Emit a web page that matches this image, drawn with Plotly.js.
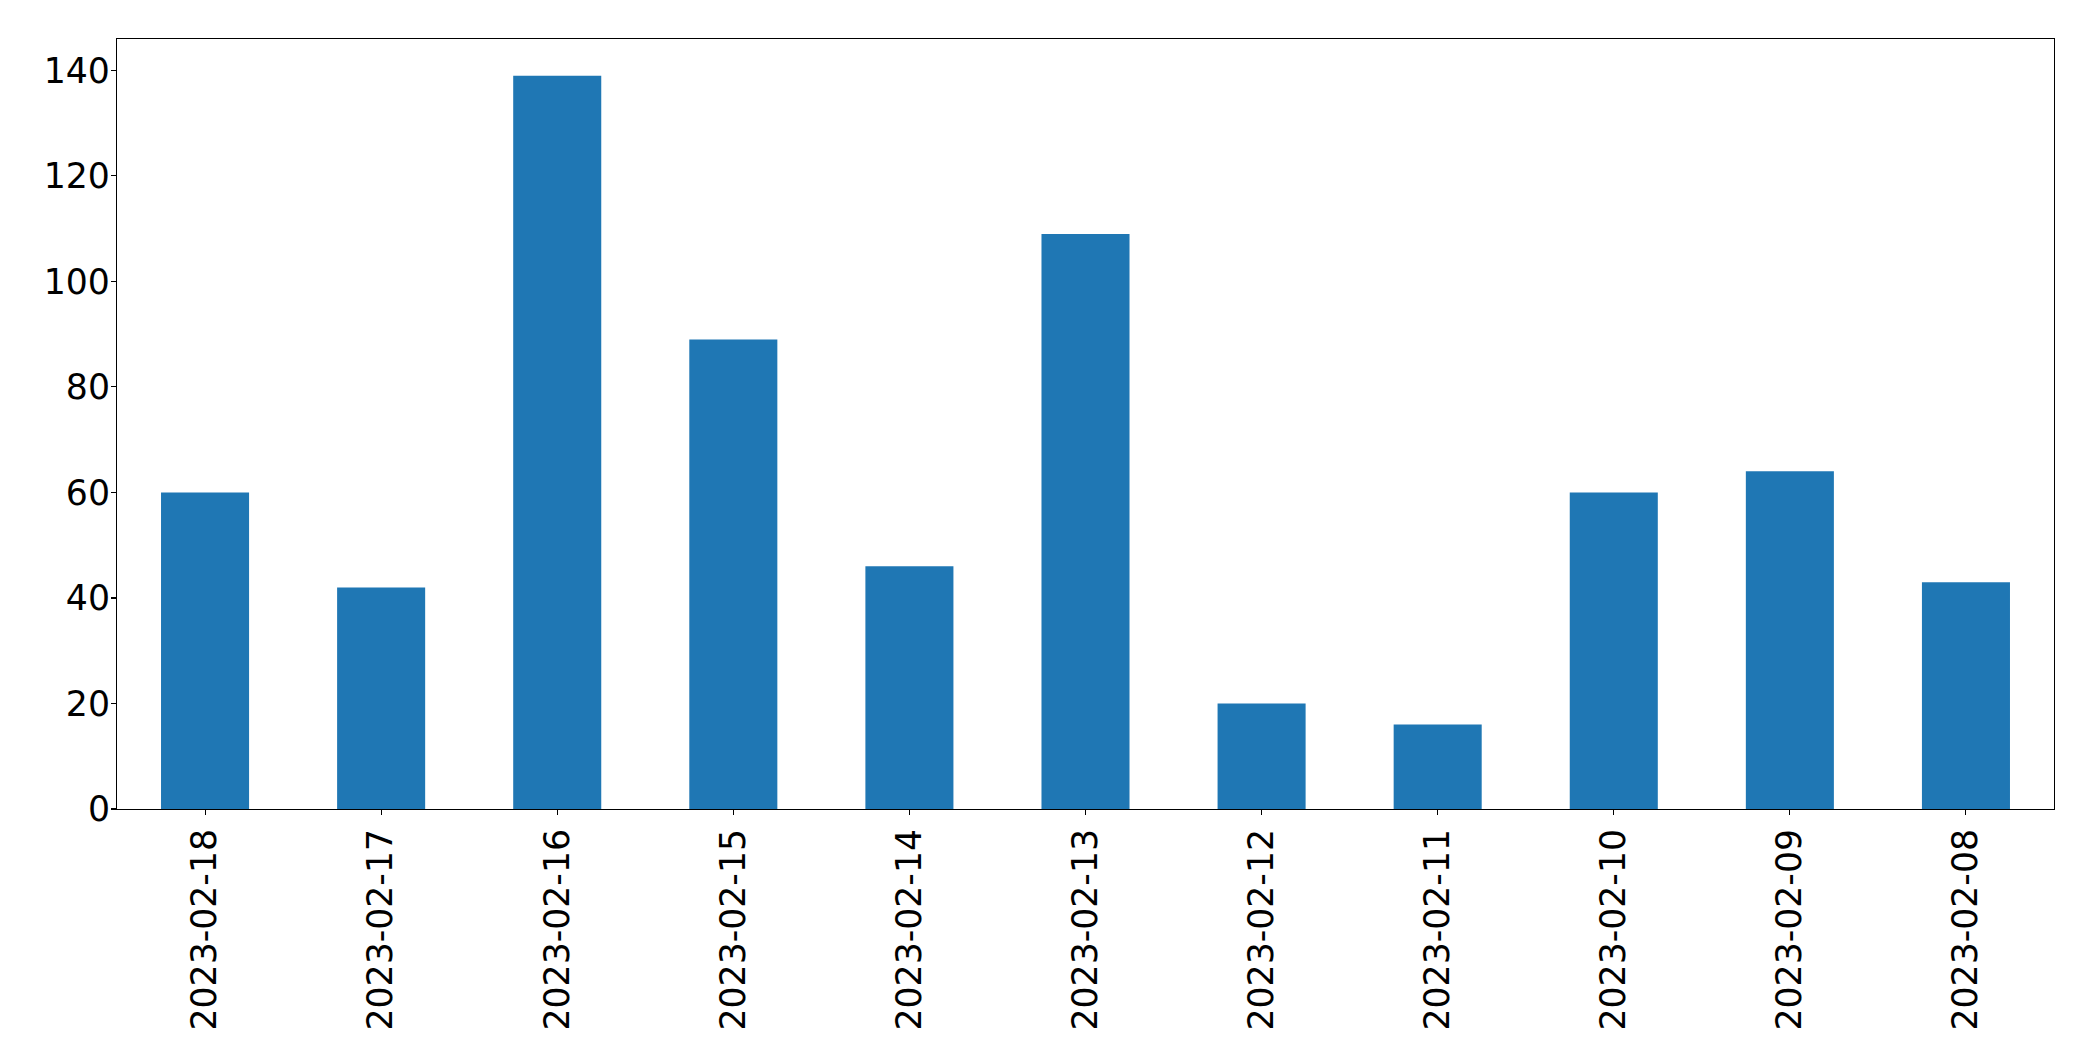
<!DOCTYPE html>
<html>
<head>
<meta charset="utf-8">
<script src="https://cdn.plot.ly/plotly-3.0.1.min.js"></script>
<style>html,body{margin:0;padding:0;background:#fff;}#chart{width:2093px;height:1061px;}</style>
</head>
<body>
<div id="chart"></div>
<script>
const categories = ["2023-02-18","2023-02-17","2023-02-16","2023-02-15","2023-02-14","2023-02-13","2023-02-12","2023-02-11","2023-02-10","2023-02-09","2023-02-08"];
const values = [60, 42, 139, 89, 46, 109, 20, 16, 60, 64, 43];
const yTicks = [0, 20, 40, 60, 80, 100, 120, 140];

const font = {family: "DejaVu Sans", size: 34.7, color: "#000"};
Plotly.newPlot("chart", [{
  type: "bar",
  x: categories,
  y: values,
  marker: {color: "#1f77b4", line: {width: 0}},
  hoverinfo: "x+y"
}], {
  width: 2093, height: 1061,
  margin: {l: 116.7, r: 38.7, t: 39.3, b: 252},
  paper_bgcolor: "#fff", plot_bgcolor: "#fff",
  bargap: 0.5,
  showlegend: false,
  font: font,
  xaxis: {
    type: "category",
    range: [-0.5, categories.length - 0.5],
    tickangle: -90,
    ticks: "outside", ticklen: 5, tickwidth: 1.1, tickcolor: "#000",
    showline: true, linecolor: "#000", linewidth: 1.1, mirror: true,
    showgrid: false, zeroline: false,
    tickfont: font,
    automargin: false
  },
  yaxis: {
    range: [0, 139 * 1.05],
    tickvals: yTicks,
    ticktext: yTicks.map(String),
    ticks: "outside", ticklen: 5, tickwidth: 1.1, tickcolor: "#000",
    ticklabelstandoff: -6,
    showline: true, linecolor: "#000", linewidth: 1.1, mirror: true,
    showgrid: false, zeroline: false,
    tickfont: font,
    automargin: false
  }
}, {displayModeBar: false, staticPlot: true});
</script>
</body>
</html>
